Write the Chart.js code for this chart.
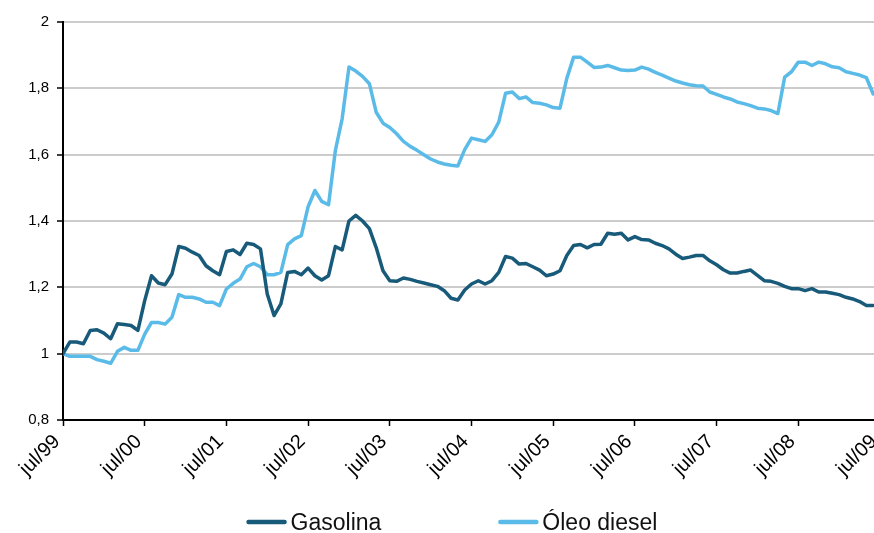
<!DOCTYPE html>
<html lang="pt">
<head>
<meta charset="utf-8">
<title>Gasolina e óleo diesel</title>
<script src="https://cdn.jsdelivr.net/npm/chart.js@4.4.1/dist/chart.umd.min.js"></script>
<style>
  html, body { margin: 0; padding: 0; background: #fff; overflow: hidden; }
  canvas { display: block; }
</style>
</head>
<body>
<canvas id="precos" width="884" height="533"></canvas>
<script>
// índice mensal, jul/99 = 1
const yearLabels = ['jul/99', 'jul/00', 'jul/01', 'jul/02', 'jul/03', 'jul/04',
                    'jul/05', 'jul/06', 'jul/07', 'jul/08', 'jul/09'];

const gasolina = [
  1.00, 1.035, 1.035, 1.03, 1.07, 1.072, 1.062, 1.045, 1.09, 1.088, 1.085, 1.07,
  1.16, 1.235, 1.213, 1.208, 1.24, 1.323, 1.318, 1.306, 1.296, 1.265, 1.25, 1.238,
  1.308, 1.313, 1.299, 1.333, 1.329, 1.316, 1.18, 1.115, 1.15, 1.245, 1.248, 1.238,
  1.258, 1.235, 1.222, 1.235, 1.323, 1.313, 1.40, 1.417, 1.40, 1.377, 1.32, 1.25,
  1.22, 1.218, 1.228, 1.224, 1.218, 1.213, 1.208, 1.203, 1.19, 1.167, 1.162, 1.192,
  1.21, 1.22, 1.21, 1.22, 1.245, 1.293, 1.288, 1.27, 1.272, 1.262, 1.252, 1.235,
  1.24, 1.25, 1.296, 1.326, 1.329, 1.319, 1.329, 1.33, 1.363, 1.36, 1.363, 1.343,
  1.353, 1.344, 1.343, 1.333, 1.326, 1.316, 1.30, 1.287, 1.291, 1.296, 1.296, 1.28,
  1.268, 1.253, 1.243, 1.243, 1.248, 1.252, 1.236, 1.22, 1.218, 1.212, 1.203, 1.196,
  1.196, 1.19, 1.196, 1.186, 1.186, 1.182, 1.178, 1.17, 1.165, 1.157, 1.145, 1.145
];

const diesel = [
  1.00, 0.992, 0.992, 0.992, 0.992, 0.982, 0.977, 0.971, 1.007, 1.019, 1.01, 1.01,
  1.059, 1.094, 1.094, 1.089, 1.11, 1.178, 1.17, 1.17, 1.165, 1.155, 1.155, 1.145,
  1.195, 1.212, 1.225, 1.262, 1.272, 1.262, 1.238, 1.238, 1.245, 1.329, 1.346, 1.356,
  1.443, 1.492, 1.459, 1.449, 1.612, 1.708, 1.864, 1.852, 1.836, 1.814, 1.728, 1.695,
  1.682, 1.663, 1.64, 1.625, 1.613, 1.60, 1.587, 1.578, 1.572, 1.568, 1.566, 1.615,
  1.65, 1.645, 1.64, 1.66, 1.698, 1.785, 1.789, 1.769, 1.774, 1.757, 1.755, 1.75,
  1.742, 1.74, 1.83, 1.894, 1.894, 1.879, 1.863, 1.864, 1.869, 1.862, 1.855, 1.854,
  1.855, 1.864, 1.858, 1.848, 1.84, 1.831, 1.822, 1.816, 1.811, 1.808, 1.807, 1.789,
  1.782, 1.774, 1.768, 1.759, 1.754, 1.748, 1.74, 1.738, 1.733, 1.724, 1.834, 1.85,
  1.879, 1.879, 1.869, 1.879, 1.874, 1.865, 1.862, 1.85, 1.845, 1.84, 1.832, 1.783
];

const FONT = '"Liberation Sans", Arial, Helvetica, sans-serif';

const toPoints = arr => arr.map((v, i) => ({ x: i, y: v }));
const fmtComma = v => Number(v.toFixed(1)).toString().replace('.', ',');

// legenda numa linha só, abaixo do eixo
const legendRow = {
  id: 'legendRow',
  afterDraw(chart) {
    const { ctx } = chart;
    const sets = chart.data.datasets;
    const lineLen = 40, textGap = 4, itemGap = 117, cx = 452, baseY = 530;
    ctx.save();
    ctx.font = '23px ' + FONT;
    const widths = sets.map(ds => lineLen + textGap + ctx.measureText(ds.label).width);
    const total = widths.reduce((a, b) => a + b, 0) + itemGap * (sets.length - 1);
    let x = cx - total / 2;
    sets.forEach((ds, i) => {
      ctx.strokeStyle = ds.borderColor;
      ctx.lineWidth = 4.5;
      ctx.lineCap = 'round';
      ctx.beginPath();
      ctx.moveTo(x + 2, baseY - 8);
      ctx.lineTo(x + lineLen - 2, baseY - 8);
      ctx.stroke();
      ctx.fillStyle = '#111';
      ctx.textBaseline = 'alphabetic';
      ctx.fillText(ds.label, x + lineLen + textGap, baseY);
      x += widths[i] + itemGap;
    });
    ctx.restore();
  }
};

new Chart(document.getElementById('precos'), {
  type: 'line',
  data: {
    datasets: [
      { label: 'Gasolina', data: toPoints(gasolina), borderColor: '#185a7a' },
      { label: 'Óleo diesel', data: toPoints(diesel), borderColor: '#5bbbe8' }
    ]
  },
  options: {
    responsive: false,
    animation: false,
    layout: { padding: { top: 22, right: 4, left: 0, bottom: 0 } },
    elements: {
      point: { radius: 0 },
      line: { borderWidth: 3.5, tension: 0, borderJoinStyle: 'round', borderCapStyle: 'round' }
    },
    plugins: {
      legend: { display: false },
      tooltip: { enabled: false }
    },
    scales: {
      x: {
        type: 'linear',
        min: 0,
        max: 120,
        afterBuildTicks: scale => {
          scale.ticks = yearLabels.map((_, i) => ({ value: i * 12 }));
        },
        afterFit: scale => {
          scale.height = 113;
          scale.paddingRight = 0;
        },
        ticks: {
          autoSkip: false,
          minRotation: 45,
          maxRotation: 45,
          padding: 4,
          labelOffset: -6,
          color: '#000',
          font: { family: FONT, size: 20 },
          callback: v => yearLabels[Math.round(v / 12)]
        },
        grid: { drawOnChartArea: false, tickLength: 6, tickColor: '#000', tickWidth: 1.5 },
        border: { color: '#000', width: 2 }
      },
      y: {
        min: 0.8,
        max: 2,
        afterFit: scale => { scale.width = 63; },
        ticks: {
          stepSize: 0.2,
          padding: 8,
          color: '#000',
          font: { family: FONT, size: 15 },
          callback: v => fmtComma(v)
        },
        grid: { color: '#cccccc', lineWidth: 2, tickLength: 6, tickColor: '#000', tickWidth: 1.5 },
        border: { color: '#000', width: 2 }
      }
    }
  },
  plugins: [legendRow]
});
</script>
</body>
</html>
